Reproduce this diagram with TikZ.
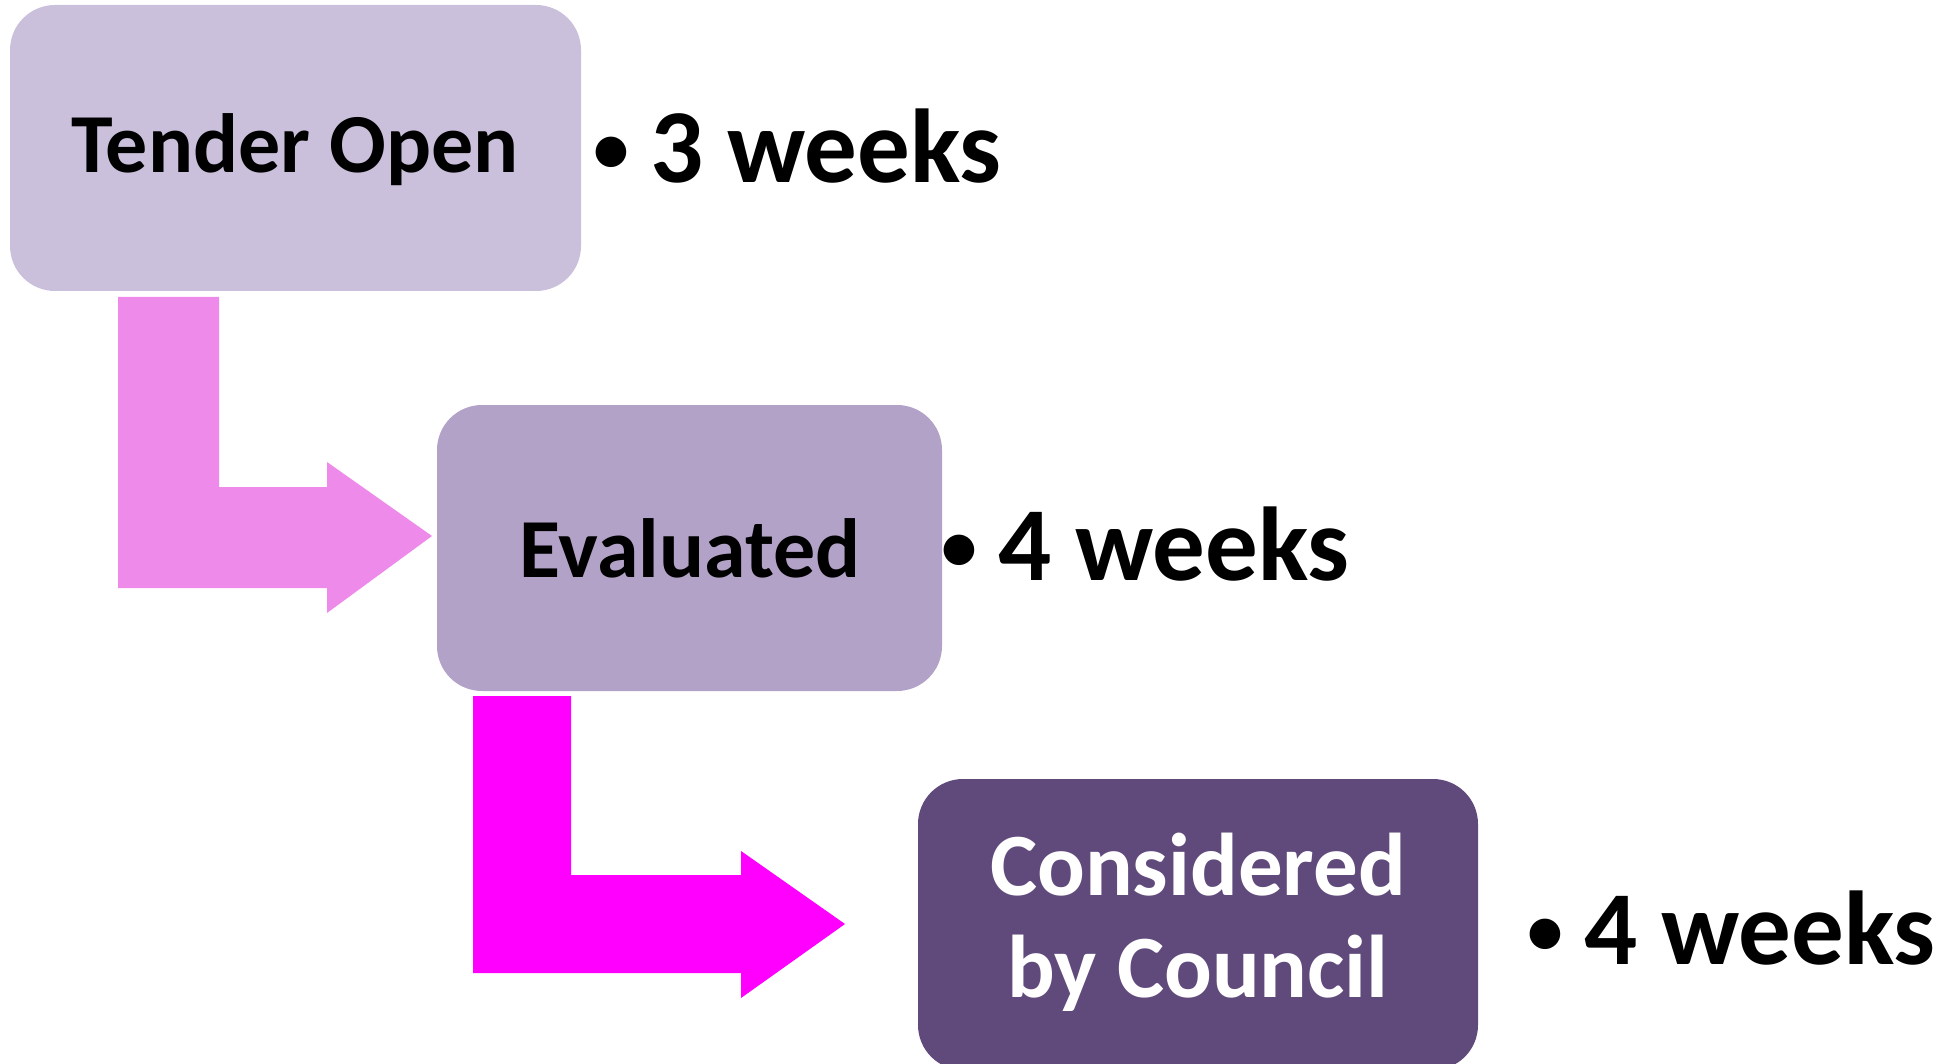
\documentclass[tikz,border=0pt]{standalone}
\usepackage{fontspec}
\setmainfont{Carlito}
\definecolor{boxA}{HTML}{CBC0DB}
\definecolor{boxB}{HTML}{B3A2C7}
\definecolor{boxC}{HTML}{604A7B}
\definecolor{arrA}{HTML}{EE8AE9}
\definecolor{arrB}{HTML}{FF00FF}
\newcommand{\mybul}{\makebox[60pt][l]{\hspace{3pt}\raisebox{10pt}{\fontsize{72}{72}\selectfont •}}}
\tikzset{
  stagebox/.style={rounded corners=45pt, draw=none},
  boxtext/.style={font=\fontsize{84}{100}\selectfont\bfseries, align=center, inner sep=0pt},
  weeklabel/.style={font=\fontsize{105}{120}\selectfont\bfseries, anchor=base west, inner sep=0pt},
}
\begin{document}
\begin{tikzpicture}[x=1pt,y=-1pt]
\useasboundingbox (0,0) rectangle (1956,1064);
% boxes
\fill[boxA, stagebox] (10,5) rectangle (581,291);
\fill[boxB, stagebox] (437,405) rectangle (942,691);
\fill[boxC, stagebox] (918,779) rectangle (1478,1070);
\node[boxtext] (t1) at (295,150) {Tender Open};
\node[boxtext] (t2) at (690,548) {Evaluated};
\node[boxtext, text=white, font=\fontsize{89}{102}\selectfont\bfseries] (t3) at (1198,922) {Considered\\by Council};
% bent arrows
\fill[arrA] (118,297) -- (219,297) -- (219,487) -- (327,487) -- (327,462) -- (432,536) -- (327,613) -- (327,588) -- (118,588) -- cycle;
\fill[arrB] (473,696) -- (571,696) -- (571,875) -- (741,875) -- (741,851) -- (845,924) -- (741,998) -- (741,973) -- (473,973) -- cycle;
% labels
\node[weeklabel] (l1) at (590,183) {\mybul 3 weeks};
\node[weeklabel] (l2) at (938,580) {\mybul 4 weeks};
\node[weeklabel] (l3) at (1524,964) {\mybul 4 weeks};
\end{tikzpicture}
\end{document}
